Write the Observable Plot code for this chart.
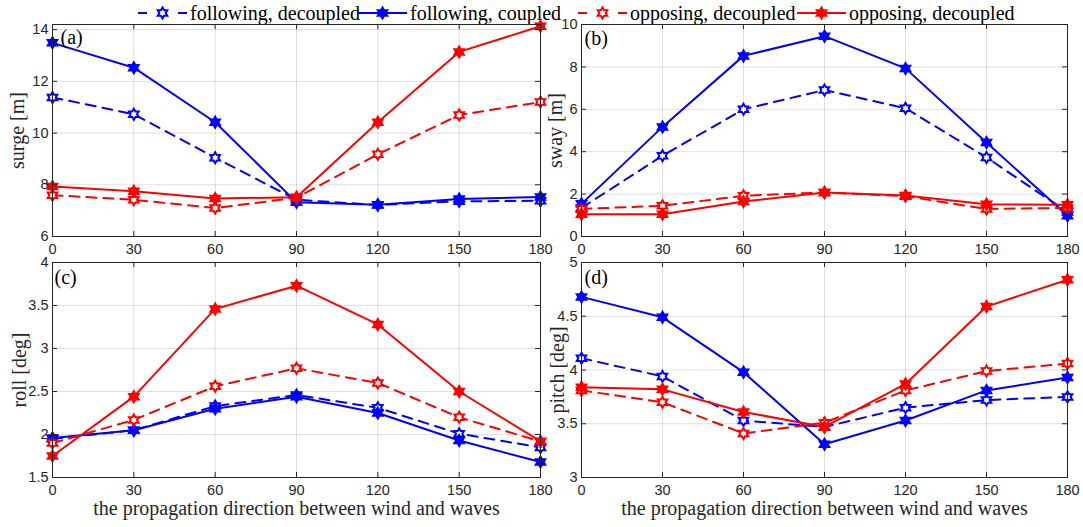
<!DOCTYPE html>
<html><head><meta charset="utf-8">
<script src="https://cdn.jsdelivr.net/npm/d3@7"></script>
<script src="https://cdn.jsdelivr.net/npm/@observablehq/plot@0.6"></script>
<style>
body{margin:0;background:#fff;}
#root{position:relative;width:1083px;height:527px;overflow:hidden;background:#fff;}
.panel{position:absolute;}
.panel svg{overflow:visible;background:transparent !important;}
#legend{position:absolute;top:0;left:0;width:1083px;height:24px;font-family:"Liberation Serif",serif;font-size:20px;color:#000;white-space:nowrap;}
.item{position:absolute;top:3px;display:flex;align-items:center;gap:3px;line-height:20px;}
</style></head>
<body><div id="root"><div id="legend"></div></div>
<script>
// ---- data ----
const angles = [0, 30, 60, 90, 120, 150, 180];
const xTicks = [0, 30, 60, 90, 120, 150, 180];
const seriesNames = ["following, decoupled", "following, coupled", "opposing, decoupled", "opposing, decoupled"];
const seriesColors = ["#0000ff", "#0000ff", "#ff0000", "#ff0000"];
const seriesDashed = [true, false, true, false];

const surgeFollowDec  = [11.38, 10.73, 9.05, 7.42, 7.22, 7.36, 7.38];
const surgeFollowCoup = [13.49, 12.53, 10.42, 7.32, 7.23, 7.45, 7.53];
const surgeOppDec     = [7.60, 7.42, 7.10, 7.50, 9.18, 10.70, 11.20];
const surgeOppCoup    = [7.93, 7.75, 7.47, 7.52, 10.42, 13.14, 14.13];

const swayFollowDec  = [1.35, 3.81, 6.00, 6.91, 6.05, 3.73, 1.15];
const swayFollowCoup = [1.54, 5.17, 8.52, 9.45, 7.93, 4.43, 0.98];
const swayOppDec     = [1.30, 1.45, 1.92, 2.08, 1.90, 1.30, 1.35];
const swayOppCoup    = [1.05, 1.05, 1.65, 2.08, 1.93, 1.52, 1.50];

const rollFollowDec  = [1.95, 2.05, 2.33, 2.46, 2.31, 2.01, 1.85];
const rollFollowCoup = [1.96, 2.05, 2.30, 2.44, 2.25, 1.93, 1.68];
const rollOppDec     = [1.90, 2.17, 2.56, 2.77, 2.60, 2.20, 1.92];
const rollOppCoup    = [1.75, 2.44, 3.46, 3.73, 3.28, 2.50, 1.92];

const pitchFollowDec  = [4.11, 3.94, 3.53, 3.47, 3.65, 3.72, 3.75];
const pitchFollowCoup = [4.68, 4.49, 3.98, 3.31, 3.53, 3.81, 3.93];
const pitchOppDec     = [3.81, 3.70, 3.41, 3.51, 3.81, 3.99, 4.06];
const pitchOppCoup    = [3.84, 3.82, 3.61, 3.47, 3.87, 4.59, 4.84];

const surgeTicks = [6, 8, 10, 12, 14];
const swayTicks  = [0, 2, 4, 6, 8, 10];
const rollTicks  = [1.5, 2, 2.5, 3, 3.5, 4];
const pitchTicks = [3, 3.5, 4, 4.5, 5];
const xLabel = "the propagation direction between wind and waves";

// ---- helpers ----
function hexagramPoints(R) {
  const r = R / Math.sqrt(3), pts = [];
  for (let i = 0; i < 12; i++) {
    const a = (-90 + i * 30) * Math.PI / 180, rad = i % 2 === 0 ? R : r;
    pts.push([rad * Math.cos(a), rad * Math.sin(a)]);
  }
  return pts;
}
const hexagram = {
  draw(context, size) {
    const pts = hexagramPoints(Math.sqrt(size / Math.PI));
    context.moveTo(pts[0][0], pts[0][1]);
    for (let i = 1; i < pts.length; i++) context.lineTo(pts[i][0], pts[i][1]);
    context.closePath();
  }
};

function toRows(arrays) {
  return arrays.map((vals, s) => angles.map((a, i) => ({angle: a, value: vals[i], s})));
}

const serif = "Liberation Serif";
const sans = "Liberation Sans";
const ink = "#262626";

function panel({left, top, width, height, ml, mr, mt, mb, yDomain, yTicks, yLabel, yLabelDx, tag, tagDx, tagDy, arrays, showXLabel}) {
  const fw = width - ml - mr, fh = height - mt - mb;
  const rows = toRows(arrays);
  const marks = [
    Plot.gridX(xTicks, {stroke: "#000", strokeOpacity: 0.12}),
    Plot.gridY(yTicks, {stroke: "#000", strokeOpacity: 0.12}),
  ];
  rows.forEach((data, s) => {
    marks.push(Plot.line(data, {x: "angle", y: "value", stroke: seriesColors[s], strokeWidth: 2,
      strokeDasharray: seriesDashed[s] ? "10,7" : null}));
    marks.push(Plot.dot(data, {x: "angle", y: "value", symbol: hexagram, r: 5.5,
      stroke: seriesColors[s], strokeWidth: 2, fill: seriesDashed[s] ? "white" : seriesColors[s]}));
  });
  marks.push(
    Plot.tickY(yTicks, {y: d => d, stroke: ink, insetRight: fw - 5}),
    Plot.tickY(yTicks, {y: d => d, stroke: ink, insetLeft: fw - 5}),
    Plot.tickX(xTicks, {x: d => d, stroke: ink, insetTop: fh - 5}),
    Plot.tickX(xTicks, {x: d => d, stroke: ink, insetBottom: fh - 5}),
    Plot.frame({stroke: ink}),
    Plot.axisX({ticks: xTicks, tickSize: 0, tickPadding: 7, label: null, tickFormat: d => String(d),
      fontSize: 14.5, fontFamily: sans, fill: ink}),
    Plot.axisY({ticks: yTicks, tickSize: 0, tickPadding: 4, label: null, tickFormat: d => String(d),
      fontSize: 14.5, fontFamily: sans, fill: ink}),
    Plot.text([yLabel], {frameAnchor: "left", rotate: -90, dx: yLabelDx, fontFamily: serif, fontSize: 20, fill: ink,
      textAnchor: "middle", lineAnchor: "middle"}),
    Plot.text([tag], {frameAnchor: "top-left", dx: tagDx, dy: tagDy, fontFamily: serif, fontSize: 20, fill: "#000",
      textAnchor: "start", lineAnchor: "middle"})
  );
  if (showXLabel) marks.push(Plot.text([xLabel], {frameAnchor: "bottom", dy: 31, fontFamily: serif, fontSize: 20, fill: ink,
    textAnchor: "middle", lineAnchor: "middle"}));
  const svg = Plot.plot({
    width, height, marginLeft: ml, marginRight: mr, marginTop: mt, marginBottom: mb,
    x: {domain: [0, 180]}, y: {domain: yDomain},
    style: {background: "transparent", overflow: "visible"},
    marks
  });
  const div = document.createElement("div");
  div.className = "panel";
  div.style.left = left + "px";
  div.style.top = top + "px";
  div.appendChild(svg);
  document.getElementById("root").appendChild(div);
}

panel({left: 0, top: 0, width: 545, height: 258, ml: 52, mr: 5, mt: 24, mb: 22,
  yDomain: [6, 14.2], yTicks: surgeTicks, yLabel: "surge [m]", yLabelDx: -35, tag: "(a)", tagDx: 8, tagDy: 13,
  arrays: [surgeFollowDec, surgeFollowCoup, surgeOppDec, surgeOppCoup], showXLabel: false});
panel({left: 529, top: 0, width: 545, height: 258, ml: 52, mr: 7, mt: 24, mb: 22,
  yDomain: [0, 10], yTicks: swayTicks, yLabel: "sway [m]", yLabelDx: -26, tag: "(b)", tagDx: 3, tagDy: 14,
  arrays: [swayFollowDec, swayFollowCoup, swayOppDec, swayOppCoup], showXLabel: false});
panel({left: 0, top: 238, width: 545, height: 289, ml: 52, mr: 5, mt: 24, mb: 50,
  yDomain: [1.5, 4], yTicks: rollTicks, yLabel: "roll [deg]", yLabelDx: -33, tag: "(c)", tagDx: 2, tagDy: 15,
  arrays: [rollFollowDec, rollFollowCoup, rollOppDec, rollOppCoup], showXLabel: true});
panel({left: 529, top: 238, width: 545, height: 289, ml: 52, mr: 7, mt: 24, mb: 50,
  yDomain: [3, 5], yTicks: pitchTicks, yLabel: "pitch [deg]", yLabelDx: -24, tag: "(d)", tagDx: 3, tagDy: 15,
  arrays: [pitchFollowDec, pitchFollowCoup, pitchOppDec, pitchOppCoup], showXLabel: true});

// ---- legend ----
const legendLefts = [138, 358, 578, 797];
const legend = document.getElementById("legend");
const ns = "http://www.w3.org/2000/svg";
const hexD = (cx, cy, R) => "M" + hexagramPoints(R).map(p => (cx + p[0]).toFixed(2) + "," + (cy + p[1]).toFixed(2)).join("L") + "Z";
seriesNames.forEach((name, s) => {
  const item = document.createElement("div");
  item.className = "item";
  item.style.left = legendLefts[s] + "px";
  const sw = document.createElementNS(ns, "svg");
  sw.setAttribute("width", 49); sw.setAttribute("height", 16);
  const c = seriesColors[s];
  if (seriesDashed[s]) {
    sw.innerHTML = `<line x1="0" y1="8" x2="9" y2="8" stroke="${c}" stroke-width="2"/>` +
      `<line x1="40" y1="8" x2="49" y2="8" stroke="${c}" stroke-width="2"/>` +
      `<path d="${hexD(24.5, 8, 5.5)}" fill="white" stroke="${c}" stroke-width="2"/>`;
  } else {
    sw.innerHTML = `<line x1="0" y1="8" x2="49" y2="8" stroke="${c}" stroke-width="2"/>` +
      `<path d="${hexD(24.5, 8, 5.5)}" fill="${c}" stroke="${c}" stroke-width="2"/>`;
  }
  const t = document.createElement("span");
  t.textContent = name;
  item.appendChild(sw); item.appendChild(t);
  legend.appendChild(item);
});
</script>
</body></html>
